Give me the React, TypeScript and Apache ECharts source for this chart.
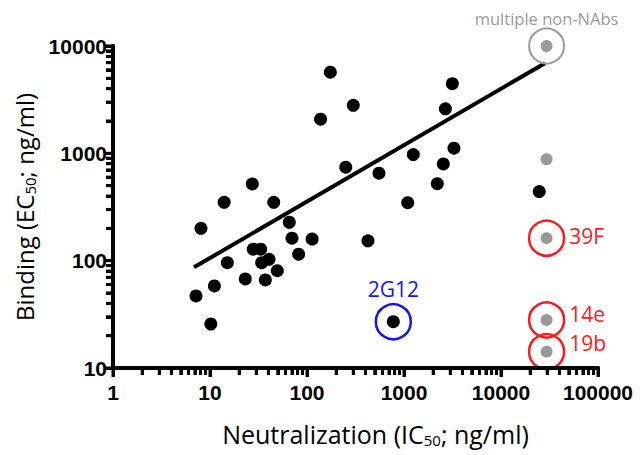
import React, { useEffect, useRef } from "react";
import * as echarts from "echarts";

// Neutralization IC50 (x) and binding EC50 (y), ng/ml
const neutX = [
  27.3, 14.0, 45.4, 8.07, 65.7, 70, 113, 27.9, 33.3, 15.1, 40.6, 34.1, 82, 49.4,
  23.1, 37.2, 11.1, 7.17, 10.2, 174, 300, 138, 3150, 2670, 3275, 1247, 2543, 251,
  552, 2205, 1092, 24800, 425, 776,
];
const bindY = [
  519, 350, 350, 200, 228, 162, 159, 128, 128, 95.8, 103, 95.8, 115, 80.7,
  67.5, 66.1, 58.1, 46.9, 25.7, 5700, 2800, 2080, 4460, 2600, 1117, 973, 797, 742,
  653, 522, 347, 440, 153, 27,
];
// non-neutralizing antibodies (grey)
const nonNAbX = [29500, 29500, 29500, 29500, 29500];
const nonNAbY = [10000, 881, 162, 28, 14.2];
// highlighted antibodies
const annotNames = ["multiple non-NAbs", "39F", "14e", "19b", "2G12"];
const annotX = [29500, 29500, 29500, 29500, 776];
const annotY = [10000, 162, 28, 14.2, 27];
// regression line end points
const fitX = [6.84, 28400];
const fitY = [86.7, 6920];
// axis ranges and ticks
const xRange = [1, 100000];
const yRange = [10, 10000];
const xMajorTicks = [1, 10, 100, 1000, 10000, 100000];
const yMajorTicks = [10, 100, 1000, 10000];
const minorSteps = [2, 3, 4, 5, 6, 7, 8, 9];

const FONT = "Open Sans";
const RED = "#f21d1d";
const BLUE = "#1515f0";
const GREY = "#9a9a9a";
const GRID = { left: 113, right: 42, top: 46, bottom: 87 };

const annotStyle: Record<string, any> = {
  "multiple non-NAbs": { border: GREY, bw: 2, label: { position: "top", distance: 1, color: GREY, fontSize: 16.5 } },
  "39F": { border: RED, bw: 2.5, label: { position: "right", distance: 4, offset: [0, -2], color: RED, fontSize: 21 } },
  "14e": { border: RED, bw: 2.5, label: { position: "right", distance: 4, offset: [0, -6], color: RED, fontSize: 21 } },
  "19b": { border: RED, bw: 2.5, label: { position: "right", distance: 4, offset: [0, -9], color: RED, fontSize: 21 } },
  "2G12": { border: BLUE, bw: 2.5, label: { position: "top", distance: 3, color: BLUE, fontSize: 21 } },
};

function minorOf(majors: number[]) {
  const out: number[] = [];
  majors.slice(0, -1).forEach((d) => minorSteps.forEach((m) => out.push(d * m)));
  return out;
}

function tickSeries(values: number[][], isY: boolean, len: number) {
  return {
    type: "custom",
    clip: false,
    silent: true,
    z: 5,
    data: values,
    encode: { x: 0, y: 1 },
    renderItem: (params: any, api: any) => {
      const p = api.coord([api.value(0), api.value(1)]);
      const shape = isY
        ? { x: p[0] - len, y: p[1] - 1.5, width: len, height: 3 }
        : { x: p[0] - 1.5, y: p[1], width: 3, height: len };
      return { type: "rect", shape, style: { fill: "#000" } };
    },
  };
}

// Main chart: labels, titles, data and tick marks
function MainChart() {
  const ref = useRef<HTMLDivElement>(null);
  useEffect(() => {
    if (!ref.current) return;
    const chart = echarts.init(ref.current, undefined, { renderer: "svg" });
    const axisLabelStyle = { fontFamily: "Liberation Sans", fontWeight: "bold" as const, fontSize: 21, color: "#000" };
    const rich = { sub: { fontFamily: FONT, fontSize: 15, color: "#000", verticalAlign: "bottom", padding: [12, 0, 0, 0] } };
    const common = {
      type: "log",
      axisLine: { show: true, lineStyle: { color: "#000", width: 4 } },
      axisTick: { show: true, length: 9, lineStyle: { color: "#000", width: 3 } },
      minorTick: { show: true, splitNumber: 9, length: 7, lineStyle: { color: "#000", width: 3 } },
      splitLine: { show: false },
      minorSplitLine: { show: false },
    };
    chart.setOption({
      animation: false,
      backgroundColor: "#fff",
      grid: GRID,
      xAxis: {
        ...common,
        min: xRange[0],
        max: xRange[1],
        name: "Neutralization (IC{sub|50}; ng/ml)",
        nameLocation: "middle",
        nameGap: 52,
        nameTextStyle: { fontFamily: FONT, fontSize: 25, color: "#000", padding: [0, 0, 0, 40], rich },
        axisLabel: { ...axisLabelStyle, margin: 14, formatter: (v: number) => String(Math.round(v)) },
      },
      yAxis: {
        ...common,
        min: yRange[0],
        max: yRange[1],
        name: "Binding (EC{sub|50}; ng/ml)",
        nameLocation: "middle",
        nameRotate: 90,
        nameGap: 64,
        nameTextStyle: { fontFamily: FONT, fontSize: 24, color: "#000", rich },
        axisLabel: { ...axisLabelStyle, margin: 6, formatter: (v: number) => String(Math.round(v)) },
      },
      series: [
        tickSeries(xMajorTicks.map((v) => [v, yRange[0]]), false, 9),
        tickSeries(minorOf(xMajorTicks).map((v) => [v, yRange[0]]), false, 7),
        tickSeries(yMajorTicks.map((v) => [xRange[0], v]), true, 9),
        tickSeries(minorOf(yMajorTicks).map((v) => [xRange[0], v]), true, 7),
        {
          type: "line",
          name: "fit",
          data: fitX.map((x, i) => [x, fitY[i]]),
          showSymbol: false,
          symbol: "none",
          lineStyle: { color: "#000", width: 4 },
          z: 2,
        },
        {
          type: "scatter",
          name: "NAbs",
          data: neutX.map((x, i) => [x, bindY[i]]),
          symbolSize: 13,
          itemStyle: { color: "#000", opacity: 1 },
          z: 3,
        },
        {
          type: "scatter",
          name: "non-NAbs",
          data: nonNAbX.map((x, i) => [x, nonNAbY[i]]),
          symbolSize: 12,
          itemStyle: { color: "#999", opacity: 1 },
          z: 3,
        },
        {
          type: "scatter",
          name: "highlight",
          clip: false,
          z: 4,
          symbolSize: 35,
          data: annotNames.map((n, i) => {
            const s = annotStyle[n];
            return {
              name: n,
              value: [annotX[i], annotY[i]],
              itemStyle: { color: "rgba(0,0,0,0)", borderColor: s.border, borderWidth: s.bw, opacity: 1 },
              label: { show: true, formatter: n, fontFamily: FONT, ...s.label },
            };
          }),
        },
      ],
    });
    return () => chart.dispose();
  }, []);
  return <div ref={ref} style={{ position: "absolute", left: 0, top: 0, width: 640, height: 455 }} />;
}

// Overlay chart: the same log axes, drawing axis lines and tick marks
function TickOverlay() {
  const ref = useRef<HTMLDivElement>(null);
  useEffect(() => {
    if (!ref.current) return;
    const chart = echarts.init(ref.current, undefined, { renderer: "svg" });
    const common = {
      type: "log",
      axisLine: { show: true, lineStyle: { color: "#000", width: 4 } },
      axisTick: { show: true, length: 9, lineStyle: { color: "#000", width: 3 } },
      minorTick: { show: true, splitNumber: 9, length: 7, lineStyle: { color: "#000", width: 3 } },
      splitLine: { show: true, lineStyle: { color: "rgba(0,0,0,0)" } },
      axisLabel: { show: true, formatter: () => "" },
    };
    chart.setOption({
      animation: false,
      grid: GRID,
      xAxis: { ...common, min: xRange[0], max: xRange[1] },
      yAxis: { ...common, min: yRange[0], max: yRange[1] },
    });
    return () => chart.dispose();
  }, []);
  return (
    <div
      ref={ref}
      style={{ position: "absolute", left: 0, top: 0, width: 640, height: 455, pointerEvents: "none" }}
    />
  );
}

export default function App() {
  return (
    <div style={{ position: "absolute", left: 0, top: 0, width: 640, height: 455 }}>
      <MainChart />
      <TickOverlay />
    </div>
  );
}
